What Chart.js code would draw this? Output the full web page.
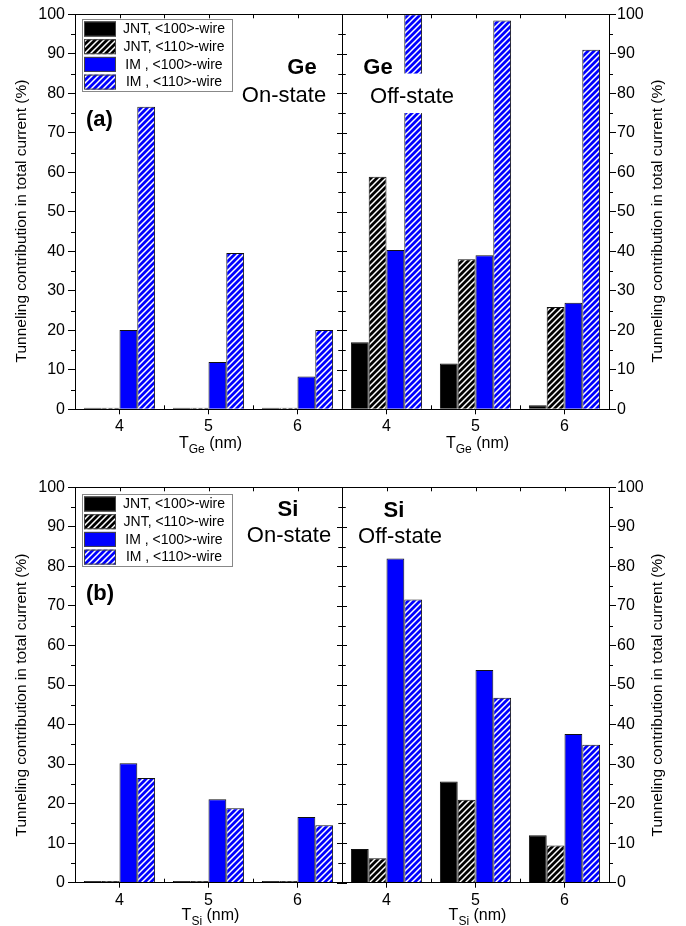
<!DOCTYPE html>
<html>
<head>
<meta charset="utf-8">
<script src="https://cdn.jsdelivr.net/npm/chart.js@4.4.0/dist/chart.umd.min.js"></script>
<style>
  body { margin: 0; background: #fff; }
  #wrap { position: relative; width: 686px; height: 926px; }
  canvas { position: absolute; left: 0; }
</style>
</head>
<body>
<div id="wrap">
  <canvas id="geOn" width="686" height="460" style="top:0"></canvas>
  <canvas id="geOff" width="686" height="460" style="top:0"></canvas>
  <canvas id="siOn" width="686" height="466" style="top:460px"></canvas>
  <canvas id="siOff" width="686" height="466" style="top:460px"></canvas>
</div>
<script>
const categories = ["4", "5", "6"];
const seriesLabels = ["JNT, <100>-wire", "JNT, <110>-wire", "IM , <100>-wire", "IM , <110>-wire"];
const yMin = 0, yMax = 100, yStep = 10;

// Ge (a)
const geOnJnt100 = [0.4, 0.4, 0.4];
const geOnJnt110 = [0.4, 0.4, 0.4];
const geOnIm100 = [20.1, 12.0, 8.3];
const geOnIm110 = [76.6, 39.6, 20.1];
const geOffJnt100 = [17.0, 11.6, 1.0];
const geOffJnt110 = [58.9, 38.0, 25.9];
const geOffIm100 = [40.3, 39.0, 27.0];
const geOffIm110 = [100, 98.4, 91.0]; // first bar runs off the axis
const geOffBreak = [75, 85];          // axis break drawn on that bar

// Si (b)
const siOnJnt100 = [0.4, 0.4, 0.4];
const siOnJnt110 = [0.4, 0.4, 0.4];
const siOnIm100 = [30.2, 21.1, 16.6];
const siOnIm110 = [26.5, 18.8, 14.5];
const siOffJnt100 = [8.5, 25.6, 12.0];
const siOffJnt110 = [6.2, 21.0, 9.4];
const siOffIm100 = [82.0, 53.8, 37.6];
const siOffIm110 = [71.6, 46.8, 34.9];

const FONT = "'Liberation Sans', Arial, sans-serif";
const BLUE = "#0000ff";
const Y_TITLE = "Tunneling contribution in total current (%)";

function hatch(color) {
  const c = document.createElement("canvas");
  c.width = 6; c.height = 6;
  const g = c.getContext("2d");
  g.fillStyle = color;
  g.fillRect(0, 0, 6, 6);
  g.strokeStyle = "#fff";
  g.lineWidth = 1.5;
  g.beginPath();
  g.moveTo(-1, 1); g.lineTo(1, -1);
  g.moveTo(-1, 7); g.lineTo(7, -1);
  g.moveTo(5, 7); g.lineTo(7, 5);
  g.stroke();
  return g.createPattern(c, "repeat");
}

const fills = [];
function getFills() {
  if (!fills.length) fills.push("#000", hatch("#000"), BLUE, hatch(BLUE));
  return fills;
}

function line(ctx, x1, y1, x2, y2) {
  ctx.beginPath();
  ctx.moveTo(x1, y1);
  ctx.lineTo(x2, y2);
  ctx.stroke();
}

function decorPlugin(spec) {
  return {
    id: "decor",
    afterDatasetsDraw(chart) {
      if (!spec.brk) return;
      const ctx = chart.ctx, y = chart.scales.y;
      const bar = chart.getDatasetMeta(spec.brk.dataset).data[spec.brk.index];
      const top = y.getPixelForValue(spec.brk.range[1]);
      const bot = y.getPixelForValue(spec.brk.range[0]);
      ctx.save();
      ctx.fillStyle = "#fff";
      ctx.fillRect(bar.x - bar.width / 2 - 1, top, bar.width + 2, bot - top);
      ctx.restore();
    },
    afterDraw(chart) {
      const ctx = chart.ctx, a = chart.chartArea;
      const x = chart.scales.x, y = chart.scales.y;
      ctx.save();
      ctx.strokeStyle = "#000";
      ctx.lineWidth = 1;
      ctx.strokeRect(Math.round(a.left) + 0.5, Math.round(a.top) + 0.5,
        Math.round(a.right - a.left), Math.round(a.bottom - a.top));

      // y minor ticks on outer side, all ticks across the shared middle edge
      const outer = spec.side === "left" ? a.left : a.right;
      const inner = spec.side === "left" ? a.right : a.left;
      const dir = spec.side === "left" ? -1 : 1;
      for (let v = yMin; v <= yMax; v += yStep / 2) {
        const py = Math.round(y.getPixelForValue(v)) + 0.5;
        const major = v % yStep === 0;
        if (!major) line(ctx, outer, py, outer + dir * 4, py);
        const len = major ? 5 : 3.5;
        line(ctx, inner - len, py, inner + len, py);
      }
      // x ticks: top edge inward, bottom boundaries inward
      const n = categories.length;
      const w = (a.right - a.left) / n;
      for (let i = 0; i <= n; i++) {
        const px = Math.round(a.left + i * w) + 0.5;
        line(ctx, px, a.top, px, a.top + 4);
        line(ctx, px, a.bottom, px, a.bottom - 4);
      }
      categories.forEach((c, i) => {
        const px = Math.round(x.getPixelForValue(i)) + 0.5;
        line(ctx, px, a.top, px, a.top + 4);
      });

      ctx.fillStyle = "#000";
      // legend
      if (spec.legend) {
        const L = spec.legend;
        ctx.strokeStyle = "#888";
        ctx.strokeRect(L.x + 0.5, L.y + 0.5, 150, 72);
        const f = getFills();
        ctx.font = "14px " + FONT;
        ctx.textAlign = "center";
        ctx.textBaseline = "middle";
        seriesLabels.forEach((lab, i) => {
          const sy = L.y + 2.5 + i * 17.7;
          ctx.fillStyle = f[i];
          ctx.fillRect(L.x + 2, sy, 32, 15);
          ctx.strokeStyle = "#444";
          ctx.strokeRect(L.x + 2.5, sy + 0.5, 31, 14);
          ctx.fillStyle = "#000";
          ctx.fillText(lab, L.x + 92, sy + 8);
        });
      }
      // panel texts
      spec.texts.forEach(t => {
        ctx.font = (t.bold ? "bold " : "") + "22px " + FONT;
        ctx.textAlign = t.align || "center";
        ctx.textBaseline = "middle";
        ctx.fillText(t.text, t.x, t.y);
      });
      // x title with subscript
      ctx.textBaseline = "alphabetic";
      ctx.textAlign = "left";
      ctx.font = "16px " + FONT;
      const wT = ctx.measureText("T").width;
      const wR = ctx.measureText(" (nm)").width;
      ctx.font = "12px " + FONT;
      const wS = ctx.measureText(spec.sub).width;
      let tx = (a.left + a.right) / 2 + 2 - (wT + wS + wR) / 2;
      const base = spec.xTitleY;
      ctx.font = "16px " + FONT;
      ctx.fillText("T", tx, base);
      ctx.font = "12px " + FONT;
      ctx.fillText(spec.sub, tx + wT, base + 5);
      ctx.font = "16px " + FONT;
      ctx.fillText(" (nm)", tx + wT + wS, base);
      // y title
      ctx.save();
      ctx.translate(spec.yTitleX, spec.yTitleY);
      ctx.rotate(-Math.PI / 2);
      ctx.font = "15.5px " + FONT;
      ctx.textAlign = "center";
      ctx.textBaseline = "middle";
      ctx.fillText(Y_TITLE, 0, 0);
      ctx.restore();
      ctx.restore();
    }
  };
}

function makePanel(id, values, spec) {
  const f = getFills();
  const left = spec.side === "left";
  const ctx = document.getElementById(id).getContext("2d");
  const canvasH = ctx.canvas.height;
  new Chart(ctx, {
    type: "bar",
    data: {
      labels: categories,
      datasets: values.map((v, i) => ({
        label: seriesLabels[i],
        data: v,
        backgroundColor: f[i],
        borderColor: "#111",
        borderWidth: 1,
        borderSkipped: "start",
        categoryPercentage: 0.8,
        barPercentage: 1.0
      }))
    },
    options: {
      responsive: false,
      animation: false,
      devicePixelRatio: 1,
      layout: {
        padding: {
          left: left ? 0 : 342,
          right: left ? 344 : 0,
          top: spec.top,
          bottom: 0
        }
      },
      plugins: {
        legend: { display: false },
        tooltip: { enabled: false }
      },
      scales: {
        x: {
          type: "category",
          offset: true,
          grid: { display: true, drawOnChartArea: false, drawTicks: true, tickLength: 5, offset: false, color: "#000" },
          border: { display: true, color: "#000" },
          ticks: { color: "#000", font: { family: FONT, size: 16 }, padding: 3, maxRotation: 0 },
          afterFit(s) { s.height = canvasH - spec.bottom; }
        },
        y: {
          position: left ? "left" : "right",
          min: yMin,
          max: yMax,
          grid: { display: true, drawOnChartArea: false, drawTicks: true, tickLength: 7, color: "#000" },
          border: { display: true, color: "#000" },
          ticks: { stepSize: yStep, color: "#000", font: { family: FONT, size: 16 }, padding: left ? 3 : 1 },
          afterFit(s) { s.width = left ? 75 : 77; }
        }
      }
    },
    plugins: [decorPlugin(spec)]
  });
}

makePanel("geOn", [geOnJnt100, geOnJnt110, geOnIm100, geOnIm110], {
  side: "left", top: 14.3, bottom: 409.3, sub: "Ge", xTitleY: 448,
  yTitleX: 22, yTitleY: 221,
  legend: { x: 82, y: 19 },
  texts: [
    { text: "Ge", x: 302, y: 68, bold: true },
    { text: "On-state", x: 284, y: 96 },
    { text: "(a)", x: 86, y: 120, bold: true, align: "left" }
  ]
});

makePanel("geOff", [geOffJnt100, geOffJnt110, geOffIm100, geOffIm110], {
  side: "right", top: 14.3, bottom: 409.3, sub: "Ge", xTitleY: 448,
  yTitleX: 658, yTitleY: 221,
  brk: { dataset: 3, index: 0, range: geOffBreak },
  texts: [
    { text: "Ge", x: 378, y: 68, bold: true },
    { text: "Off-state", x: 412, y: 97 }
  ]
});

makePanel("siOn", [siOnJnt100, siOnJnt110, siOnIm100, siOnIm110], {
  side: "left", top: 27.3, bottom: 422.7, sub: "Si", xTitleY: 460,
  yTitleX: 22, yTitleY: 235,
  legend: { x: 82, y: 34 },
  texts: [
    { text: "Si", x: 288, y: 50, bold: true },
    { text: "On-state", x: 289, y: 76 },
    { text: "(b)", x: 86, y: 134, bold: true, align: "left" }
  ]
});

makePanel("siOff", [siOffJnt100, siOffJnt110, siOffIm100, siOffIm110], {
  side: "right", top: 27.3, bottom: 422.7, sub: "Si", xTitleY: 460,
  yTitleX: 658, yTitleY: 235,
  texts: [
    { text: "Si", x: 394, y: 51, bold: true },
    { text: "Off-state", x: 400, y: 77 }
  ]
});
</script>
</body>
</html>
